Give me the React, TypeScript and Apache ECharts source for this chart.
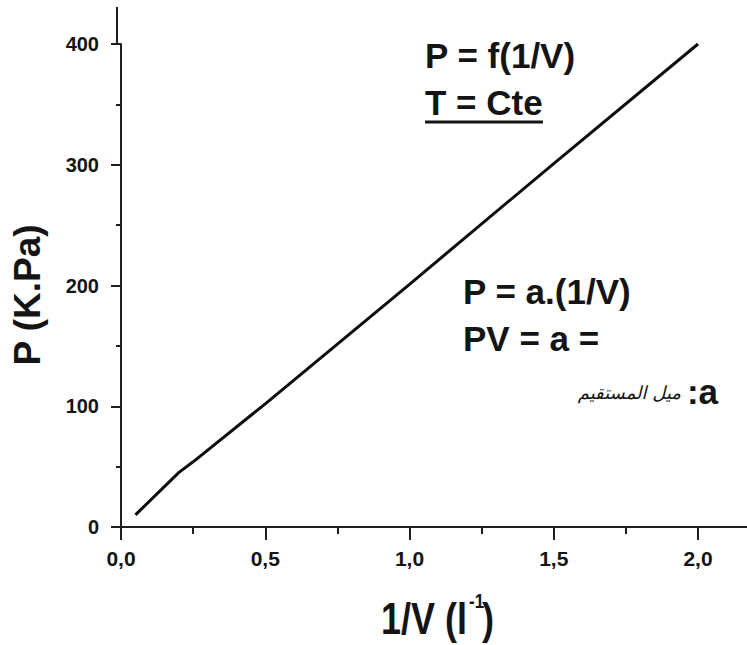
import React, { useEffect, useRef } from "react";
import * as echarts from "echarts";

// ---- data ----
const invV = [0.05, 0.2, 0.25, 0.5, 1.0, 1.5, 2.0];
const pressure = [10, 45, 54, 102, 201, 301, 400];
const xTickLabels = ["0,0", "0,5", "1,0", "1,5", "2,0"];
const yTickValues = [0, 100, 200, 300, 400];
const yAxisTitle = "P (K.Pa)";
const xAxisTitleMain = "1/V (l";
const xAxisTitleSup = "-1";
const xAxisTitleEnd = ")";
const noteLines1 = ["P = f(1/V)", "T = Cte"];
const noteLines2 = ["P = a.(1/V)", "PV = a ="];
const slopeSymbol = ":a";
const slopeArabic = "ميل المستقيم";

const FONT = "'Liberation Sans', Arial, Helvetica, sans-serif";
const INK = "#141414";

export default function App() {
  const ref = useRef<HTMLDivElement>(null);

  useEffect(() => {
    if (!ref.current) return;
    const chart = echarts.init(ref.current, null, { renderer: "svg" });

    const gridLeft = 121;
    const gridTop = 44;
    const gridRight = 49;
    const gridBottom = 118;
    const axisY = 645 - gridBottom;

    const boldText = (text: string, x: number, y: number, size: number, extra: any = {}) => ({
      type: "text",
      x,
      y,
      silent: true,
      ...extra,
      style: {
        text,
        fill: INK,
        font: `bold ${size}px ${FONT}`,
        align: extra.align || "left",
        verticalAlign: "middle",
      },
    });

    chart.setOption({
      animation: false,
      backgroundColor: "#ffffff",
      grid: { left: gridLeft, top: gridTop, right: gridRight, bottom: gridBottom, containLabel: false },
      xAxis: {
        type: "value",
        min: 0,
        max: 2,
        interval: 0.5,
        splitLine: { show: false },
        axisLine: { show: true, onZero: false, lineStyle: { color: "#1e1e1e", width: 2 } },
        axisTick: { show: true, inside: false, length: 13, lineStyle: { color: "#1e1e1e", width: 2 } },
        minorTick: { show: true, splitNumber: 2, length: 7, lineStyle: { color: "#1e1e1e", width: 2 } },
        axisLabel: {
          margin: 21,
          fontSize: 21,
          fontWeight: "bold",
          fontFamily: FONT,
          color: INK,
          formatter: (v: number) => xTickLabels[Math.round(v / 0.5)] ?? "",
        },
      },
      yAxis: {
        type: "value",
        min: yTickValues[0],
        max: yTickValues[yTickValues.length - 1],
        interval: 100,
        offset: 4,
        splitLine: { show: false },
        axisLine: { show: true, lineStyle: { color: "#1e1e1e", width: 2 } },
        axisTick: { show: true, inside: false, length: 10, lineStyle: { color: "#1e1e1e", width: 2 } },
        minorTick: { show: true, splitNumber: 2, length: 5, lineStyle: { color: "#1e1e1e", width: 2 } },
        axisLabel: {
          margin: 18,
          fontSize: 20,
          fontWeight: "bold",
          fontFamily: FONT,
          color: INK,
        },
      },
      series: [
        {
          type: "line",
          data: invV.map((x, i) => [x, pressure[i]]),
          showSymbol: false,
          symbol: "none",
          lineStyle: { color: "#0d0d0d", width: 3 },
          silent: true,
        },
      ],
      graphic: [
        // axis line extensions
        { type: "line", silent: true, shape: { x1: 117, y1: 7, x2: 117, y2: gridTop + 1 }, style: { stroke: "#1e1e1e", lineWidth: 2 } },
        { type: "line", silent: true, shape: { x1: 116, y1: axisY, x2: gridLeft + 1, y2: axisY }, style: { stroke: "#1e1e1e", lineWidth: 2 } },
        { type: "line", silent: true, shape: { x1: 747 - gridRight - 1, y1: axisY, x2: 747, y2: axisY }, style: { stroke: "#1e1e1e", lineWidth: 2 } },
        // axis titles
        boldText(yAxisTitle, 27, 295, 37, { rotation: Math.PI / 2, align: "center" }),
        boldText(xAxisTitleMain, 381, 619, 36, { scaleY: 1.22 }),
        boldText(xAxisTitleSup, 469, 601, 17, { scaleY: 1.22 }),
        boldText(xAxisTitleEnd, 482, 619, 36, { scaleY: 1.22 }),
        // annotations
        boldText(noteLines1[0], 425, 55, 35),
        boldText(noteLines1[1], 425, 102, 35),
        { type: "line", silent: true, shape: { x1: 425, y1: 122, x2: 543, y2: 122 }, style: { stroke: INK, lineWidth: 3 } },
        boldText(noteLines2[0], 463, 291, 35),
        boldText(noteLines2[1], 463, 338, 35),
        boldText(slopeSymbol, 718, 391, 35, { align: "right" }),
        {
          type: "text",
          x: 681,
          y: 392,
          silent: true,
          style: {
            text: slopeArabic,
            fill: INK,
            font: `italic 18px 'DejaVu Sans', sans-serif`,
            align: "right",
            verticalAlign: "middle",
          },
        },
      ],
    });

    return () => chart.dispose();
  }, []);

  return (
    <div
      ref={ref}
      style={{ position: "absolute", left: 0, top: 0, width: 747, height: 645 }}
    />
  );
}
